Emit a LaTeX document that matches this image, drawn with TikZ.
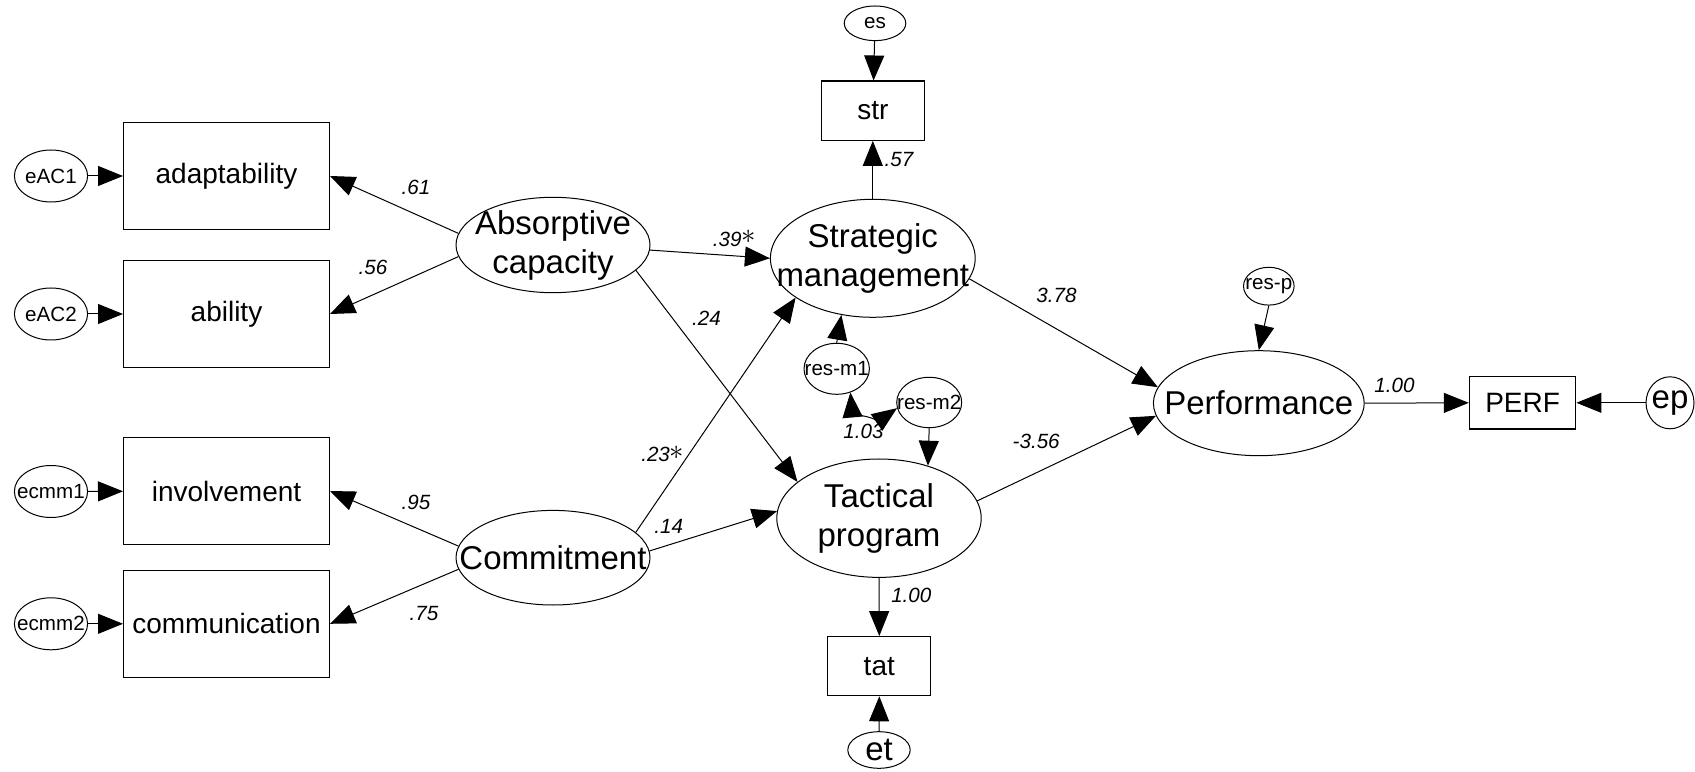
\documentclass[tikz,border=0pt]{standalone}
\usepackage{fontspec}
\setmainfont{Liberation Sans}
\usetikzlibrary{arrows.meta,shapes.geometric}

% significance mark after an estimate
\newcommand{\sigmark}{\raisebox{1.2pt}{\fontsize{14}{14}\selectfont\(\ast\)}}

\tikzset{
  tip/.tip={Triangle[length=12.5pt,width=10pt]},
  obs/.style={draw, rectangle, line width=0.6pt, inner sep=0pt,
    font=\fontsize{14}{16}\selectfont},
  latent/.style={draw, ellipse, line width=0.5pt, inner sep=0pt},
  lattext/.style={inner sep=0pt, align=center,
    font=\fontsize{16.5}{19.5}\selectfont},
  errtext/.style={inner sep=0pt, font=\fontsize{10.3}{12}\selectfont},
  coef/.style={inner sep=0pt, font=\fontsize{10.3}{12}\selectfont\itshape},
  link/.style={draw, line width=0.5pt, -tip},
  cov/.style={draw, line width=0.5pt, tip-tip},
}

\begin{document}
\begin{tikzpicture}[x=0.5pt, y=0.5pt]
\fill[white] (0,0) rectangle (1695,771);
\useasboundingbox (0,0) rectangle (1695,771);

% ---- measurement model: absorptive capacity
\node[latent, minimum width=36.6pt, minimum height=26pt,
      label={[errtext]center:eAC1}] (eAC1) at (51,595) {};
\node[latent, minimum width=36.6pt, minimum height=26pt,
      label={[errtext]center:eAC2}] (eAC2) at (51,457) {};
\node[obs, minimum width=102.9pt, minimum height=53.3pt] (adapt) at (226.5,595) {adaptability};
\node[obs, minimum width=102.9pt, minimum height=53.3pt] (ability) at (226.5,457) {ability};

% ---- measurement model: commitment
\node[latent, minimum width=36.6pt, minimum height=26pt,
      label={[errtext]center:ecmm1}] (ecmm1) at (51,279.5) {};
\node[latent, minimum width=36.6pt, minimum height=26pt,
      label={[errtext]center:ecmm2}] (ecmm2) at (51,147.2) {};
\node[obs, minimum width=102.9pt, minimum height=53.3pt] (inv) at (226.5,280) {involvement};
\node[obs, minimum width=102.9pt, minimum height=53.3pt] (comm) at (226.5,147.2) {communication};

% ---- latent constructs
\node[latent, minimum width=97pt, minimum height=47.7pt,
      label={[lattext]center:Absorptive\\capacity}] (Abs) at (553,526) {};
\node[latent, minimum width=97pt, minimum height=47.3pt,
      label={[lattext]center:Commitment}] (Com) at (553,213.3) {};
\node[latent, minimum width=102.4pt, minimum height=59pt,
      label={[lattext]center:Strategic\\management}] (SM) at (872.8,512.7) {};
\node[latent, minimum width=102.2pt, minimum height=59.2pt,
      label={[lattext]center:Tactical\\program}] (Tac) at (879,252.8) {};
\node[latent, minimum width=105.4pt, minimum height=52.5pt,
      label={[lattext]center:Performance}] (Perf) at (1258.8,367.8) {};

% ---- single indicators and their errors
\node[obs, minimum width=51.5pt, minimum height=29.6pt] (str) at (872.8,660.3) {str};
\node[latent, minimum width=30.8pt, minimum height=17.3pt,
      label={[errtext]center:es}] (es) at (875,747.7) {};
\node[obs, minimum width=51.5pt, minimum height=29.5pt] (tat) at (879.3,104.8) {tat};
\node[latent, minimum width=31.2pt, minimum height=18.3pt,
      label={[lattext]center:et}] (et) at (879,21) {};
\node[obs, minimum width=53.2pt, minimum height=26.2pt] (PERF) at (1522.6,368.2) {PERF};
\node[latent, minimum width=24pt, minimum height=26pt,
      label={[lattext]center:ep}] (ep) at (1670,368.2) {};

% ---- structural residuals
\node[latent, minimum width=32.7pt, minimum height=25.5pt,
      label={[errtext]center:res-m1}] (rm1) at (836.7,402.2) {};
\node[latent, minimum width=32.5pt, minimum height=25.2pt,
      label={[errtext]center:res-m2}] (rm2) at (929.2,368.5) {};
\node[latent, minimum width=25.3pt, minimum height=18.9pt,
      label={[errtext]center:res-p}] (resp) at (1268.8,484.8) {};

% ---- error paths
\draw[link] (eAC1) -- (adapt);
\draw[link] (eAC2) -- (ability);
\draw[link] (ecmm1) -- (inv);
\draw[link] (ecmm2) -- (comm);
\draw[link] (es) -- (str);
\draw[link] (et.north) -- (tat.south);
\draw[link] (ep.west) -- (PERF.east);
\draw[link] (rm1.north) -- (SM.241);
\draw[link] (rm2.south) -- (Tac.47);
\draw[link] (resp.south) -- (Perf.north);
\draw[cov] (rm1.-60) to[out=-85, in=215] (rm2.190);

% ---- loadings
\draw[link] (Abs.173) -- (adapt.east);
\draw[link] (Abs.187) -- (ability.east);
\draw[link] (Com.173) -- (inv.east);
\draw[link] (Com.187) -- (comm.east);
\draw[link] (SM.north) -- (str.south);
\draw[link] (Tac.south) -- (tat.north);
\draw[link] (Perf.east) -- (PERF.west);

% ---- structural paths
\draw[link] (Abs.-3) -- (SM.west);
\draw[link] (Abs.-17) -- (Tac.156);
\draw[link] (Com.17) -- (SM.207);
\draw[link] (Com.4) -- (Tac.176);
\draw[link] (SM.-12) -- (Perf.171);
\draw[link] (Tac.10) -- (Perf.187);

% ---- estimates
\node[coef] (c61) at (416,584) {.61};
\node[coef] (c56) at (373,504) {.56};
\node[coef] (c95) at (416,268.5) {.95};
\node[coef] (c75) at (424,157) {.75};
\node[coef] (c39) at (734.4,532.7) {.39\sigmark};
\node[coef] (c57) at (899,611.8) {.57};
\node[coef] (c24) at (706.5,452.7) {.24};
\node[coef] (c378) at (1056.5,475.2) {3.78};
\node[coef] (c23) at (662.8,316.8) {.23\sigmark};
\node[coef] (c14) at (668.8,244.7) {.14};
\node[coef] (c103) at (863.4,339.2) {1.03};
\node[coef] (c356) at (1036.2,329.2) {-3.56};
\node[coef] (c100a) at (911.3,175.5) {1.00};
\node[coef] (c100b) at (1394.5,385.8) {1.00};
\end{tikzpicture}
\end{document}
